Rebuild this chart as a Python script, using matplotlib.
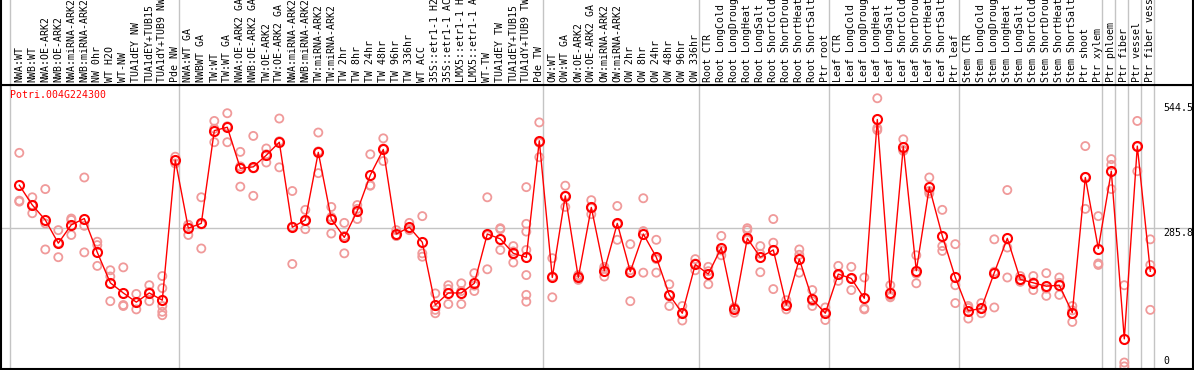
import numpy as np
import matplotlib
matplotlib.use("Agg")
import matplotlib.pyplot as plt
import matplotlib.transforms as mtransforms

gene = "Potri.004G224300"

# sample names, grouped as in the header (long names are cut in the original)
groups = [
    ["NWA:WT", "NWB:WT", "NWA:OE-ARK2", "NWB:OE-ARK2", "NWA:miRNA-ARK2", "NWB:miRNA-ARK2",
     "NW 0hr", "WT H2O", "WT-NW", "TUA1dEY NW", "TUA1dEY+TUB15", "TUA1dY+TUB9 NW", "Pde NW"],
    ["NWA:WT GA", "NWBWT GA", "TW:WT", "TW:WT GA", "NWA:OE-ARK2 GA", "NWB:OE-ARK2 GA",
     "TW:OE-ARK2", "TW:OE-ARK2 GA", "NWA:miRNA-ARK2", "NWB:miRNA-ARK2", "TW:miRNA-ARK2",
     "TW:miRNA-ARK2", "TW 2hr", "TW 8hr", "TW 24hr", "TW 48hr", "TW 96hr", "TW 336hr",
     "WT ACC", "35S::etr1-1 H2", "35S::etr1-1 AC", "LMX5::etr1-1 H", "LMX5::etr1-1 A",
     "WT-TW", "TUA1dEY TW", "TUA1dEY+TUB15", "TUA1dY+TUB9 TW", "Pde TW"],
    ["OW:WT", "OW:WT GA", "OW:OE-ARK2", "OW:OE-ARK2 GA", "OW:miRNA-ARK2", "OW:miRNA-ARK2",
     "OW 2hr", "OW 8hr", "OW 24hr", "OW 48hr", "OW 96hr", "OW 336hr"],
    ["Root CTR", "Root LongCold", "Root LongDroug", "Root LongHeat", "Root LongSalt",
     "Root ShortCold", "Root ShortDrou", "Root ShortHeat", "Root ShortSalt", "Ptr root"],
    ["Leaf CTR", "Leaf LongCold", "Leaf LongDroug", "Leaf LongHeat", "Leaf LongSalt",
     "Leaf ShortCold", "Leaf ShortDrou", "Leaf ShortHeat", "Leaf ShortSalt", "Ptr leaf"],
    ["Stem CTR", "Stem LongCold", "Stem LongDroug", "Stem LongHeat", "Stem LongSalt",
     "Stem ShortCold", "Stem ShortDrou", "Stem ShortHeat", "Stem ShortSalt", "Ptr shoot",
     "Ptr xylem"],
    ["Ptr phloem"], ["Ptr fiber"], ["Ptr vessel"], ["Ptr fiber vess"],
]

means = [375, 334, 303, 255, 293, 306, 236, 173, 152, 133, 152, 137, 427,
         286, 296, 488, 495, 410, 413, 437, 464, 288, 303, 443, 305, 267, 322, 396,
         449, 274, 288, 257, 127, 152, 152, 172, 274, 264, 234, 226, 467,
         184, 353, 184, 329, 198, 296, 196, 274, 226, 148, 110, 211,
         191, 246, 118, 265, 226, 241, 127, 222, 139, 110,
         191, 182, 141, 511, 152, 455, 198, 371, 270, 184,
         115, 120, 194, 265, 180, 173, 166, 168, 111, 391, 244,
         404, 57, 456, 197]

reps = [
    [442, 343, 341], [350, 317, 334], [367, 296, 242], [282, 255, 226], [306, 303, 272],
    [391, 291, 236], [258, 251, 208], [199, 186, 135], [205, 125, 127], [150, 118, 132],
    [168, 135, 154], [187, 162, 125, 113, 106], [420, 434],
    [293, 272, 293], [350, 244, 294], [508, 464, 492], [524, 464, 497], [444, 372, 414],
    [477, 353, 410], [451, 422, 439], [513, 412, 466], [363, 212, 289], [324, 284, 301],
    [484, 400, 445], [330, 275, 309], [297, 234, 270], [334, 305, 326], [439, 374, 375],
    [472, 425, 451], [282, 270, 270], [297, 282, 284], [311, 234, 227], [151, 117, 110],
    [168, 129, 160], [172, 129, 156], [193, 156, 167], [350, 201, 271], [286, 284, 241],
    [249, 215, 238], [371, 295, 279, 241, 189, 148, 134], [505, 433, 463],
    [143, 224, 186], [374, 330, 353], [189, 179, 185], [344, 315, 328], [206, 186, 202],
    [332, 262, 295], [253, 135, 199], [348, 194, 280], [262, 194, 222], [170, 125, 148],
    [125, 95, 110], [222, 199, 213],
    [206, 170, 197], [270, 230, 240], [122, 111, 121], [286, 282, 262], [249, 195, 233],
    [305, 256, 160], [137, 118, 126], [242, 194, 231], [158, 125, 135], [122, 96, 111],
    [208, 177, 189], [206, 158, 182], [184, 120, 118], [555, 493, 489], [168, 143, 146],
    [470, 448, 446], [230, 172, 192], [391, 358, 363], [324, 249, 239], [253, 168, 131],
    [125, 99, 121], [131, 110, 120], [263, 122, 196], [365, 184, 246], [187, 175, 178],
    [187, 158, 174], [193, 146, 161], [184, 148, 173], [125, 92, 116], [456, 326, 392],
    [311, 213, 210],
    [429, 417, 367], [168, 8, 0], [508, 404, 455], [263, 210, 117],
]

ref_values = [544.5, 285.8, 0]

labels = [name for g in groups for name in g]
x = np.arange(len(labels))
edges = np.cumsum([0] + [len(g) for g in groups])

fig = plt.figure(figsize=(11.94, 3.70), dpi=100)
W, H = 1194.0, 370.0
ax = fig.add_axes([1 / W, 1 / H, 1192 / W, 284 / H])
head = fig.add_axes([1 / W, 285 / H, 1192 / W, 85 / H], sharex=ax)

mono = "DejaVu Sans Mono"
grey = "#c4c4c4"
pink = "#f09a9a"

for a in (ax, head):
    for e in edges:
        a.axvline(e - 0.715, color=grey, lw=1, zorder=0)
    a.set_xticks([])
    a.set_yticks([])
    for s in a.spines.values():
        s.set_color("black")
        s.set_linewidth(1.5)

head.spines["top"].set_visible(False)
head.set_ylim(0, 1)
for xi, name in zip(x, labels):
    head.text(xi, 0.03, name, rotation=90, ha="center", va="bottom",
              fontsize=7.1, family=mono, color="black", clip_on=True)

# replicates
rx = np.concatenate([[xi] * len(r) for xi, r in zip(x, reps)])
ry = np.concatenate(reps)
ax.scatter(rx, ry, s=34, facecolors="none", edgecolors=pink, linewidths=1.3, zorder=2)

# means
ax.plot(x, means, color="red", lw=1, zorder=3)
ax.plot(x, means, "o", ms=6.5, mfc="none", mec="red", mew=1.5, zorder=4)

ax.axhline(ref_values[1], color=grey, lw=1, zorder=0)
ax.set_xlim((1 - 19.3) / 13, (1193 - 19.3) / 13)
ax.set_ylim(-5.4, 582.4)

trans = mtransforms.blended_transform_factory(ax.transAxes, ax.transData)
for v in ref_values:
    ax.text(0.9748, v, "0" if v == 0 else f"{v}", transform=trans, ha="left",
            va="bottom" if v == 0 else "top", fontsize=7.1, family=mono, color="black")

ax.text(0.0075, 0.965, gene, transform=ax.transAxes, ha="left", va="center",
        fontsize=7.1, family=mono, color="red")

fig.savefig("out.png", dpi=100)
